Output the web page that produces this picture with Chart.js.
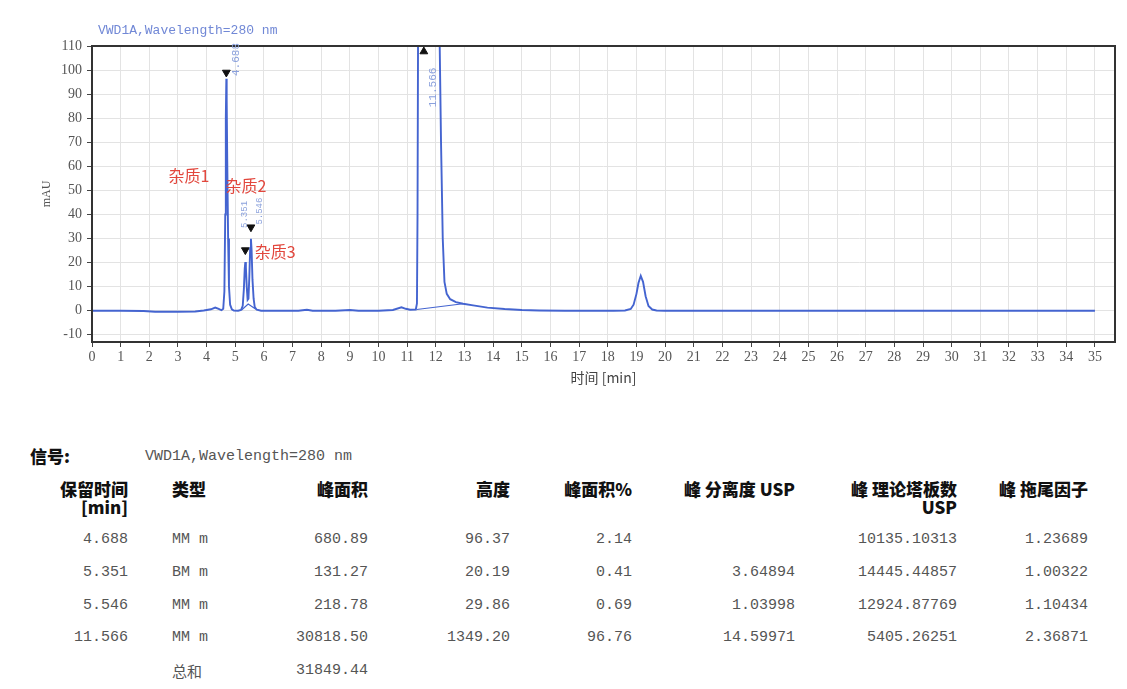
<!DOCTYPE html>
<html>
<head>
<meta charset="utf-8">
<script src="https://cdn.jsdelivr.net/npm/chart.js@4.4.1/dist/chart.umd.min.js"></script>
<style>
  body { margin: 0; background: #fff; }
  #wrap { position: relative; width: 1127px; height: 689px; overflow: hidden; }
  #chartBox { position: absolute; left: 0; top: 0; width: 1127px; height: 400px; }
  .cell { position: absolute; white-space: pre; line-height: 20px; height: 20px; }
  .head { font-family: "Noto Sans CJK SC", sans-serif; font-weight: 900; font-size: 17px; color: #111; }
  .val { font-family: "Liberation Mono", monospace; font-size: 15px; color: #555; }
  .cjk { font-family: "Noto Sans CJK SC", sans-serif; font-size: 15px; color: #555; }
</style>
</head>
<body>
<div id="wrap">
  <div id="chartBox"><canvas id="chromChart"></canvas></div>
  <div id="table"></div>
</div>
<script>
const signalName = 'VWD1A,Wavelength=280 nm';

// chromatogram trace (min, mAU)
const time = [0, 1.0, 1.8, 2.2, 3.0, 3.6, 3.9, 4.15, 4.3, 4.42, 4.52, 4.58, 4.62, 4.65, 4.67, 4.688, 4.70, 4.72, 4.75, 4.78, 4.82, 4.88, 4.95,
  5.1, 5.2, 5.26, 5.3, 5.33, 5.351, 5.37, 5.40, 5.43, 5.46, 5.49, 5.52, 5.546, 5.57, 5.60, 5.64, 5.68, 5.75, 5.9,
  6.5, 7.2, 7.5, 7.7, 8.5, 9.0, 9.3, 10.0, 10.5, 10.8, 10.95, 11.1, 11.3, 11.34, 11.36, 11.38, 11.45, 11.566, 11.7, 11.9,
  12.1, 12.18, 12.24, 12.3, 12.38, 12.5, 12.7, 12.95, 13.3, 13.8, 14.4, 15.0, 15.6, 16.5, 17.5, 18.2,
  18.6, 18.8, 18.9, 19.0, 19.07, 19.15, 19.23, 19.32, 19.42, 19.55, 19.7, 20.0, 25, 30, 35];
const signal = [0, 0, -0.1, -0.4, -0.4, -0.3, 0.1, 0.6, 1.3, 0.8, 0.2, 0.8, 8, 40, 80, 96.4, 88, 62, 30, 10, 2.5, 0.6, 0.1,
  0, 0.3, 2, 9, 17.5, 20.2, 18, 10, 4.5, 5, 14, 26, 29.9, 25, 13, 5, 1.5, 0.4, 0,
  0, 0, 0.4, 0, 0, 0.3, 0, 0, 0.3, 1.4, 0.8, 0.4, 0.5, 3, 40, 120, 520, 1349.2, 950, 420,
  140, 70, 30, 12, 7, 4.8, 3.6, 2.9, 2.2, 1.3, 0.7, 0.3, 0.1, 0, 0, 0,
  0.1, 0.7, 2.5, 7, 11.5, 14.5, 12, 6, 2, 0.5, 0.1, 0, 0, 0, 0];

// integration baselines (null = gap)
const baseTime = [5.22, 5.45, 5.72, 9, 11.33, 12.95];
const baseSignal = [0.3, 2.8, 0.6, null, 0.5, 2.9];

// peak apex markers
const markTime = [4.688, 5.351, 5.546, 11.58];
const markSignal = [99, 25.2, 34.7, 107.7];
const markRotation = [180, 180, 180, 0];

// retention time labels and impurity labels
const rtLabels = ['4.688', '5.351', '5.546', '11.566'];
const rtLabelTime = [5.02, 5.34, 5.86, 11.9];
const rtLabelSignal = [104.4, 40, 41.4, 92.8];
const impurityLabels = ['杂质1', '杂质2', '杂质3'];
const impurityTime = [3.38, 5.37, 6.39];
const impuritySignal = [55.9, 51.7, 24.3];

// peak table
const retTime = [4.688, 5.351, 5.546, 11.566];
const peakType = ['MM m', 'BM m', 'MM m', 'MM m'];
const peakArea = [680.89, 131.27, 218.78, 30818.50];
const peakHeight = [96.37, 20.19, 29.86, 1349.20];
const areaPct = [2.14, 0.41, 0.69, 96.76];
const resolution = [null, 3.64894, 1.03998, 14.59971];
const plates = [10135.10313, 14445.44857, 12924.87769, 5405.26251];
const tailing = [1.23689, 1.00322, 1.10434, 2.36871];
const areaTotal = 31849.44;

const traceColor = 'rgb(68, 100, 208)';

const overlay = {
  id: 'overlay',
  afterDraw(chart) {
    const {ctx, chartArea: a, scales: {x, y}} = chart;
    ctx.save();
    ctx.strokeStyle = '#333';
    ctx.lineWidth = 2;
    ctx.strokeRect(a.left, a.top, a.right - a.left, a.bottom - a.top);

    ctx.textBaseline = 'middle';
    ctx.fillStyle = '#7188d6';
    ctx.font = '13px "Liberation Mono"';
    ctx.fillText(signalName, a.left + 6, a.top - 15);

    ctx.textAlign = 'center';
    ctx.fillStyle = '#8aa0dc';
    rtLabels.forEach((t, i) => {
      ctx.save();
      ctx.translate(x.getPixelForValue(rtLabelTime[i]), y.getPixelForValue(rtLabelSignal[i]));
      ctx.rotate(-Math.PI / 2);
      ctx.font = (i === 1 || i === 2 ? '9px' : '11px') + ' "Liberation Mono"';
      ctx.fillText(t, 0, 0);
      ctx.restore();
    });

    ctx.fillStyle = '#e2473d';
    ctx.font = '16px "Noto Sans CJK SC"';
    impurityLabels.forEach((t, i) => {
      ctx.fillText(t, x.getPixelForValue(impurityTime[i]), y.getPixelForValue(impuritySignal[i]));
    });
    ctx.restore();
  }
};

const tickFont = {family: '"Liberation Serif"', size: 14};

new Chart(document.getElementById('chromChart'), {
  type: 'line',
  data: {
    datasets: [{
      data: time.map((t, i) => ({x: t, y: signal[i]})),
      borderColor: traceColor,
      borderWidth: 1.9,
      pointRadius: 0,
      tension: 0
    }, {
      data: baseTime.map((t, i) => ({x: t, y: baseSignal[i]})),
      borderColor: traceColor,
      borderWidth: 1.2,
      pointRadius: 0,
      spanGaps: false
    }, {
      type: 'scatter',
      data: markTime.map((t, i) => ({x: t, y: markSignal[i]})),
      pointStyle: 'triangle',
      rotation: markRotation,
      pointRadius: 4.5,
      backgroundColor: '#111',
      borderColor: '#111',
      borderWidth: 1
    }]
  },
  options: {
    responsive: true,
    maintainAspectRatio: false,
    animation: false,
    layout: {padding: {top: 46, right: 12, left: 0, bottom: 0}},
    plugins: {
      legend: {display: false},
      tooltip: {enabled: false}
    },
    scales: {
      x: {
        type: 'linear',
        min: 0,
        max: 35.7,
        border: {display: false},
        grid: {color: '#e3e3e3', tickColor: '#444', tickLength: 5},
        ticks: {stepSize: 1, includeBounds: false, autoSkip: false, maxRotation: 0, padding: 2, color: '#555', font: tickFont},
        title: {display: true, text: '时间 [min]', color: '#444', font: {family: '"Noto Sans CJK SC"', size: 14}, padding: {bottom: 14}},
        afterFit(scale) { scale.height = 58; }
      },
      y: {
        min: -13,
        max: 110,
        border: {display: false},
        grid: {color: '#e3e3e3', tickColor: '#444', tickLength: 5},
        ticks: {stepSize: 10, includeBounds: false, padding: 5, color: '#555', font: tickFont},
        title: {display: true, text: 'mAU', color: '#555', font: {family: '"Liberation Serif"', size: 12}, padding: {top: 40}},
        afterFit(scale) { scale.width = 92; }
      }
    }
  },
  plugins: [overlay]
});

// peak table below the chart
const table = document.getElementById('table');
function cell(text, cls, top, edge, alignLeft) {
  const d = document.createElement('div');
  d.className = 'cell ' + cls;
  d.textContent = text;
  d.style.top = (top - 10) + 'px';
  if (alignLeft) d.style.left = edge + 'px';
  else d.style.right = (1127 - edge) + 'px';
  table.appendChild(d);
}
const fmt = (v, n) => v === null ? '' : v.toFixed(n);

cell('信号:', 'head', 456, 30, true);
cell(signalName, 'val', 457, 145, true);

const columns = [
  {head: ['保留时间', '[min]'], vals: retTime.map(v => fmt(v, 3)), edge: 128},
  {head: ['类型'], vals: peakType, edge: 172, left: true},
  {head: ['峰面积'], vals: peakArea.map(v => fmt(v, 2)), edge: 368},
  {head: ['高度'], vals: peakHeight.map(v => fmt(v, 2)), edge: 510},
  {head: ['峰面积%'], vals: areaPct.map(v => fmt(v, 2)), edge: 632},
  {head: ['峰 分离度 USP'], vals: resolution.map(v => fmt(v, 5)), edge: 795},
  {head: ['峰 理论塔板数', 'USP'], vals: plates.map(v => fmt(v, 5)), edge: 957},
  {head: ['峰 拖尾因子'], vals: tailing.map(v => fmt(v, 5)), edge: 1088}
];
const headRows = [489, 507];
const valueRows = [540, 573, 606, 638];
columns.forEach(c => {
  c.head.forEach((h, i) => cell(h, 'head', headRows[i], c.edge, c.left));
  c.vals.forEach((v, i) => cell(v, 'val', valueRows[i], c.edge, c.left));
});
cell('总和', 'cjk', 671, 172, true);
cell(fmt(areaTotal, 2), 'val', 671, 368, false);
</script>
</body>
</html>
